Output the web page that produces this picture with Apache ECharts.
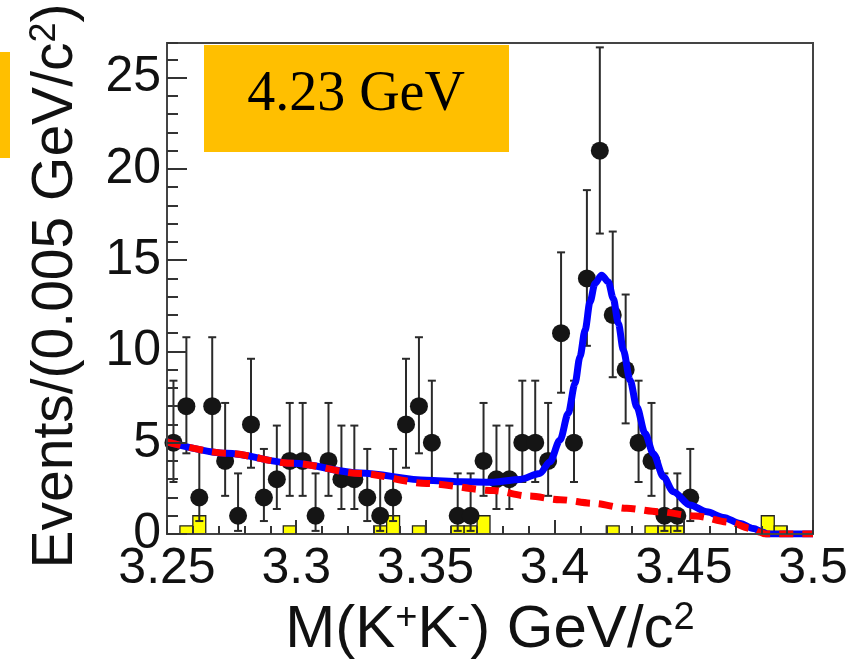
<!DOCTYPE html>
<html><head><meta charset="utf-8">
<script src="https://cdn.jsdelivr.net/npm/echarts@6/dist/echarts.min.js"></script>
<style>html,body{margin:0;padding:0;background:#fff}#c{width:853px;height:667px}</style>
</head><body><div id="c"></div>
<script>
// ---- data ----
const binCenters = [3.2525,3.2575,3.2625,3.2675,3.2725,3.2775,3.2825,3.2875,3.2925,3.2975,
  3.3025,3.3075,3.3125,3.3175,3.3225,3.3275,3.3325,3.3375,3.3425,3.3475,
  3.3525,3.3575,3.3625,3.3675,3.3725,3.3775,3.3825,3.3875,3.3925,3.3975,
  3.4025,3.4075,3.4125,3.4175,3.4225,3.4275,3.4325,3.4375,3.4425,3.4475,3.4525];
const counts = [5,7,2,7,4,1,6,2,3,4, 4,1,4,3,3,2,1,2,6,7, 5,0,1,1,4,3,3,5,5,4, 11,5,14,21,12,9,5,4,1,1,2];
const errLow = [2.85,4.42,0.71,4.42,2.09,0.17,3.63,0.71,1.37,2.09, 2.09,0.17,2.09,1.37,1.37,0.71,0.17,0.71,3.63,4.42,
  2.85,0,0.17,0.17,2.09,1.37,1.37,2.85,2.85,2.09, 7.74,2.85,10.31,16.46,8.59,6.06,2.85,2.09,0.17,0.17,0.71];
const errHigh = [8.40,10.78,4.66,10.78,7.18,3.32,9.60,4.66,5.94,7.18, 7.18,3.32,7.18,5.94,5.94,4.66,3.32,4.66,9.60,10.78,
  8.40,0,3.32,3.32,7.18,5.94,5.94,8.40,8.40,7.18, 15.43,8.40,18.84,26.66,16.57,13.12,8.40,7.18,3.32,3.32,4.66];
const binWidth = 0.005;
const bkgEdges = [3.255,3.26,3.295,3.33,3.335,3.345,3.36,3.365,3.37,3.42,3.435,3.44,3.445,3.48,3.485];
const bkgValues = [0.45,1.0,0.45,0.45,1.0,0.45,0.45,0.45,1.0,0.45,0.45,0.45,0.45,1.0,0.45];
const fitX = [3.25,3.2731,3.2989,3.3247,3.3505,3.3634,3.3763,3.3866,3.3943,3.3982,3.4021,3.4053,3.4079,3.4098,3.4118,3.4137,3.4156,3.4182,3.4208,3.4227,3.4247,3.4266,3.4292,3.4318,3.4350,3.4382,3.4421,3.4459,3.4524,3.4589,3.4653,3.4718,3.4769,3.4808,3.4822,3.5];
const fitY = [5.05,4.42,3.87,3.34,2.95,2.86,2.84,2.99,3.32,3.96,5.15,6.61,8.25,9.70,11.17,12.71,13.72,14.18,13.81,12.90,11.53,10.07,8.43,6.97,5.51,4.40,3.14,2.32,1.59,1.22,0.91,0.58,0.30,0.10,0,0];
const bgX = [3.25,3.2731,3.2989,3.3247,3.3505,3.3763,3.3898,3.4021,3.4150,3.4279,3.4402,3.4545,3.4679,3.4756,3.4795,3.4815,3.5];
const bgY = [5.05,4.42,3.87,3.32,2.77,2.38,2.08,1.88,1.68,1.41,1.22,0.99,0.64,0.31,0.10,0,0];
const xMin = 3.25, xMax = 3.5, xStep = 0.05;
const yMin = 0, yMax = 26.9, yStep = 5;
const labelText = '4.23 GeV';

// ---- build ----
const pts = [], errs = [];
binCenters.forEach((x, i) => {
  if (counts[i] > 0) { pts.push([x, counts[i]]); errs.push([x, errLow[i], errHigh[i]]); }
});
const hist = bkgEdges.map((e, i) => [e, bkgValues[i]]);
const fit = fitX.map((x, i) => [x, fitY[i]]);
const bg = bgX.map((x, i) => [x, bgY[i]]);

const chart = echarts.init(document.getElementById('c'), null, {renderer: 'canvas'});
const axisCol = '#333';
const frameCol = '#444';
const sans = 'Liberation Sans, Arial, Helvetica, sans-serif';
const frameAxis = {axisLine: {show: true, onZero: false, lineStyle: {color: frameCol, width: 2}}, axisTick: {show: false},
  axisLabel: {show: false}, splitLine: {show: false}};
chart.setOption({
  animation: false,
  backgroundColor: '#fff',
  grid: {left: 167, right: 40, top: 43, bottom: 133, containLabel: false, outerBoundsMode: 'none',
    show: true, borderColor: frameCol, borderWidth: 2, backgroundColor: 'transparent'},
  xAxis: [{
    type: 'value', min: xMin, max: xMax, interval: xStep, position: 'bottom', z: 10,
    axisLine: {show: true, onZero: false, lineStyle: {color: frameCol, width: 2}},
    axisTick: {show: true, inside: true, length: 14, lineStyle: {color: axisCol, width: 2}},
    minorTick: {show: true, splitNumber: 5, length: 8, lineStyle: {color: axisCol, width: 2}},
    splitLine: {show: false}, minorSplitLine: {show: false},
    axisLabel: {fontSize: 50, fontFamily: sans, color: '#111', margin: 10,
      formatter: v => String(+v.toFixed(2))}
  }, Object.assign({type: 'value', min: xMin, max: xMax, position: 'top'}, frameAxis)],
  yAxis: [{
    type: 'value', min: yMin, max: yMax, interval: yStep, position: 'left', z: 10,
    axisLine: {show: true, onZero: false, lineStyle: {color: frameCol, width: 2}},
    axisTick: {show: true, inside: true, length: 20, lineStyle: {color: axisCol, width: 2}},
    splitLine: {show: false},
    axisLabel: {fontSize: 50, fontFamily: sans, color: '#111', margin: 6, showMaxLabel: false}
  }, {
    type: 'value', min: yMin, max: yMax, interval: 1, position: 'left', z: 10,
    axisLine: {show: false, onZero: false},
    axisTick: {show: true, inside: true, length: 11, lineStyle: {color: axisCol, width: 2}},
    axisLabel: {show: false}, splitLine: {show: false}
  }, Object.assign({type: 'value', min: yMin, max: yMax, position: 'right'}, frameAxis)],
  graphic: [
    {type: 'rect', shape: {x: 0, y: 52, width: 10, height: 106}, style: {fill: '#FFBF00'}, z: 10},
    {type: 'rect', shape: {x: 204, y: 45, width: 305, height: 107}, style: {fill: '#FFBF00'}, z: 10},
    {type: 'text', x: 356, y: 95, z: 11,
      style: {text: labelText, font: '56px "Liberation Serif", serif', fill: '#000',
        textAlign: 'center', textVerticalAlign: 'middle'}},
    {type: 'text', x: 56, y: 286, rotation: Math.PI / 2, z: 11,
      style: {text: 'Events/(0.005 GeV/c{s|2})', font: '57px ' + sans, fill: '#111',
        textAlign: 'center', textVerticalAlign: 'middle',
        rich: {s: {fontSize: 36, fontFamily: sans, verticalAlign: 'top', fill: '#111'}}}},
    {type: 'text', x: 490, y: 630, z: 11,
      style: {text: 'M(K{s|+}K{s|-}) GeV/c{s|2}', font: '60px ' + sans, fill: '#111',
        textAlign: 'center', textVerticalAlign: 'middle',
        rich: {s: {fontSize: 38, fontFamily: sans, verticalAlign: 'top', fill: '#111'}}}}
  ],
  series: [
    {type: 'custom', z: 2, data: hist, clip: true,
      renderItem: (params, api) => {
        const p0 = api.coord([api.value(0), 0]);
        const p1 = api.coord([api.value(0) + binWidth, api.value(1)]);
        return {type: 'rect', shape: {x: p0[0], y: p1[1], width: p1[0] - p0[0], height: p0[1] - p1[1]},
          style: {fill: '#ffff00', stroke: '#222', lineWidth: 1.3}};
      }},
    {type: 'custom', z: 3, data: errs, clip: true,
      renderItem: (params, api) => {
        const lo = api.coord([api.value(0), api.value(1)]);
        const hi = api.coord([api.value(0), api.value(2)]);
        const st = {stroke: '#2a2a2a', lineWidth: 2};
        return {type: 'group', children: [
          {type: 'line', shape: {x1: lo[0], y1: lo[1], x2: hi[0], y2: hi[1]}, style: st},
          {type: 'line', shape: {x1: lo[0] - 4, y1: lo[1], x2: lo[0] + 4, y2: lo[1]}, style: st},
          {type: 'line', shape: {x1: hi[0] - 4, y1: hi[1], x2: hi[0] + 4, y2: hi[1]}, style: st}
        ]};
      }},
    {type: 'scatter', z: 4, data: pts, symbol: 'circle', symbolSize: 18,
      itemStyle: {color: '#151515', opacity: 1}},
    {type: 'line', z: 5, data: fit, showSymbol: false, smooth: 0.3, smoothMonotone: 'x',
      lineStyle: {color: '#0000ff', width: 7}},
    {type: 'line', z: 6, data: bg, showSymbol: false, smooth: 0.3, smoothMonotone: 'x',
      lineStyle: {color: '#ff0000', width: 7, type: [14, 9]}}
  ]
});
</script></body></html>
